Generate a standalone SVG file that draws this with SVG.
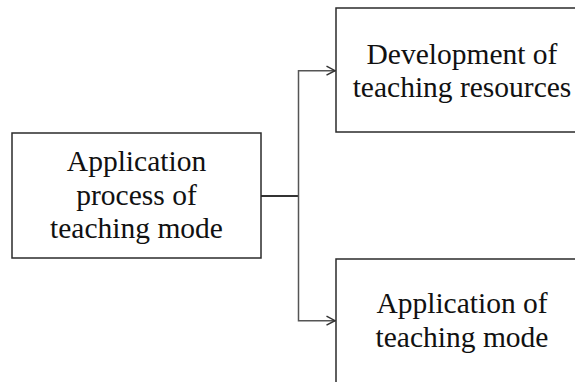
<svg xmlns="http://www.w3.org/2000/svg" width="575" height="382" viewBox="0 0 575 382">
  <defs>
    <style>
      .box { fill: #ffffff; stroke: #2b2b2b; stroke-width: 1.5; }
      .label { font-family: "Liberation Serif", "Times New Roman", serif; font-size: 29.5px; fill: #111111; text-anchor: middle; }
      .link { fill: none; stroke: #555555; stroke-width: 1.5; }
      .stem { fill: none; stroke: #333333; stroke-width: 2; }
    </style>
    <marker id="arrow" markerUnits="userSpaceOnUse" markerWidth="12" markerHeight="12" viewBox="0 0 12 12" refX="11" refY="6" orient="auto">
      <path d="M2,1.5 L10.5,6 L2,10.5" fill="none" stroke="#333333" stroke-width="1.5"/>
    </marker>
  </defs>
  <rect width="575" height="382" fill="#ffffff"/>

  <g id="connectors">
    <path class="stem" d="M261,196 H298.5"/>
    <path class="link" d="M298.5,196 V70.7 H335.5" marker-end="url(#arrow)"/>
    <path class="link" d="M298.5,196 V320.7 H335.5" marker-end="url(#arrow)"/>
  </g>

  <g id="node-process">
    <rect class="box" x="12" y="133" width="249" height="125"/>
    <text class="label" x="136.5" y="171">Application</text>
    <text class="label" x="136.5" y="204.5">process of</text>
    <text class="label" x="136.5" y="238">teaching mode</text>
  </g>

  <g id="node-resources">
    <rect class="box" x="336" y="8" width="252" height="124"/>
    <text class="label" x="462" y="63.5">Development of</text>
    <text class="label" x="462" y="97">teaching resources</text>
  </g>

  <g id="node-application">
    <rect class="box" x="336" y="259" width="252" height="130"/>
    <text class="label" x="462" y="313">Application of</text>
    <text class="label" x="462" y="346.7">teaching mode</text>
  </g>
</svg>
